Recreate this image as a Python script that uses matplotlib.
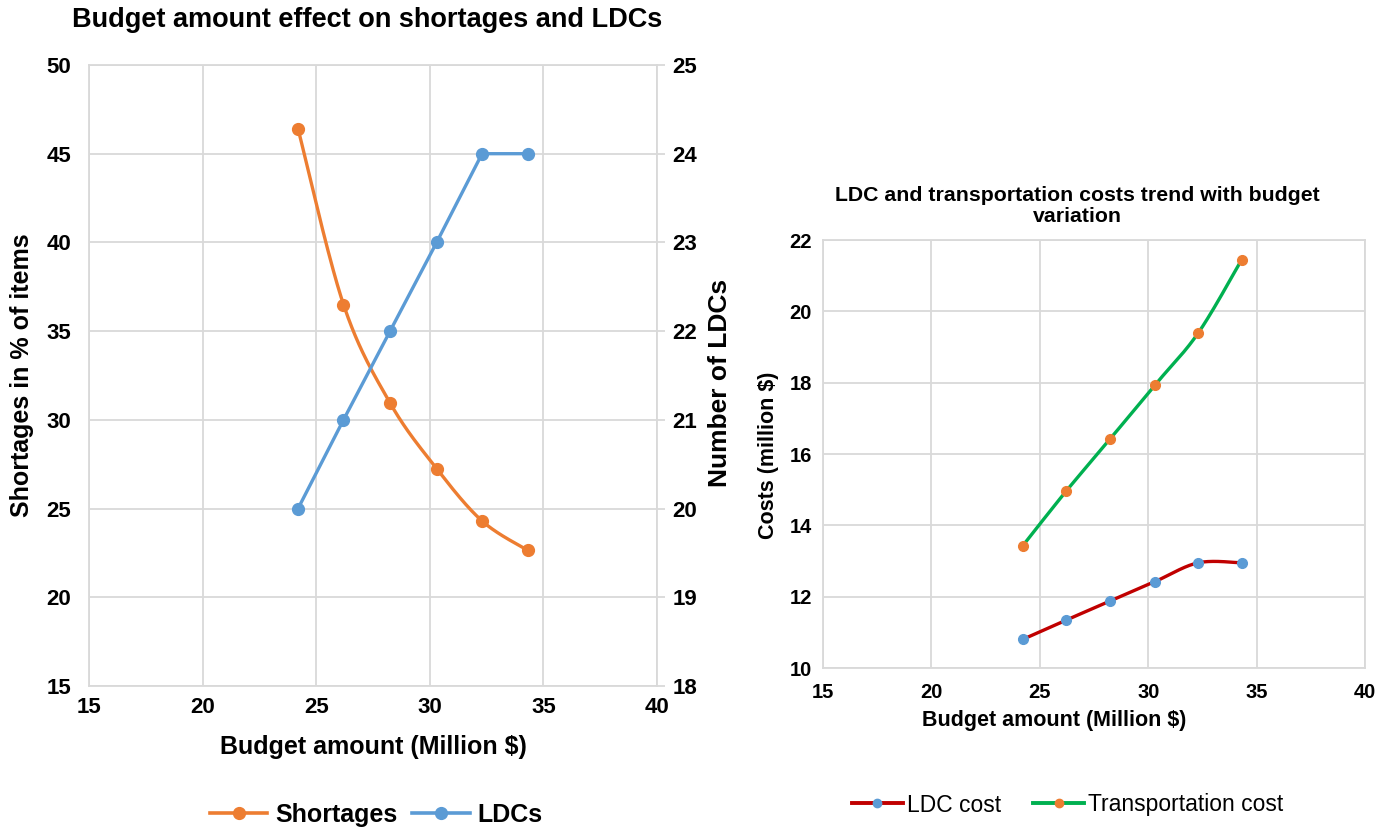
import numpy as np
import matplotlib
matplotlib.use("Agg")
import matplotlib.pyplot as plt
from matplotlib.lines import Line2D

plt.rcParams['font.family'] = ['Liberation Sans', 'DejaVu Sans']

# ---------------- data ----------------
budget = [24.2, 26.2, 28.25, 30.3, 32.3, 34.3]
shortages = [46.4, 36.5, 30.95, 27.25, 24.3, 22.65]
ldcs = [20, 21, 22, 23, 24, 24]
ldc_cost = [10.8, 11.34, 11.88, 12.42, 12.95, 12.95]
transport_cost = [13.42, 14.95, 16.43, 17.93, 19.39, 21.44]

left_xticks = [15, 20, 25, 30, 35, 40]
left_yticks = [15, 20, 25, 30, 35, 40, 45, 50]
right_yticks = [18, 19, 20, 21, 22, 23, 24, 25]
cost_yticks = [10, 12, 14, 16, 18, 20, 22]

ORANGE = '#ED7D31'
BLUE = '#5B9BD5'
RED = '#C00000'
GREEN = '#00B050'
GRID = '#D9D9D9'
TXT = '#000000'

W, H = 1387, 832


def smooth(x, y, n=40):
    """Excel-style smoothed line (cubic Bezier, Catmull-Rom control points)."""
    P = np.column_stack([np.asarray(x, float), np.asarray(y, float)])
    out = []
    for i in range(len(P) - 1):
        p0 = P[i - 1] if i > 0 else P[i]
        p1 = P[i]
        p2 = P[i + 1]
        p3 = P[i + 2] if i + 2 < len(P) else P[i + 1]
        c1 = p1 + (p2 - p0) / 6.0
        c2 = p2 - (p3 - p1) / 6.0
        t = np.linspace(0, 1, n)[:, None]
        seg = ((1 - t) ** 3) * p1 + 3 * ((1 - t) ** 2) * t * c1 + 3 * (1 - t) * t ** 2 * c2 + t ** 3 * p2
        out.append(seg if i == 0 else seg[1:])
    out = np.vstack(out)
    return out[:, 0], out[:, 1]


def style_axes(ax):
    ax.grid(True, color=GRID, linewidth=1.3)
    ax.set_axisbelow(True)
    for s in ax.spines.values():
        s.set_color(GRID)
        s.set_linewidth(1.3)
    ax.tick_params(length=0, colors=TXT)


def fx(px):
    return px / W


def fy(py):
    return 1 - py / H


fig = plt.figure(figsize=(13.87, 8.32), dpi=100)

# ---------------- left chart ----------------
ax1 = fig.add_axes([0.0642, 0.1755, 0.4095, 0.7464])
style_axes(ax1)
ax1.set_xlim(15, 40)
ax1.set_ylim(15, 50)
ax1.set_xticks(left_xticks)
ax1.set_yticks(left_yticks)
for lab in ax1.get_xticklabels() + ax1.get_yticklabels():
    lab.set_fontsize(16)
    lab.set_fontweight('bold')
ax1.tick_params(axis='x', pad=8)
ax1.tick_params(axis='y', pad=13)

sx, sy = smooth(budget, shortages)
ax1.plot(sx, sy, color=ORANGE, linewidth=2.4, zorder=3)
ax1.plot(budget, shortages, linestyle='none', marker='o', markersize=8.5, color=ORANGE, zorder=4)

ax2 = ax1.twinx()
ax2.set_ylim(18, 25)
ax2.set_yticks(right_yticks)
for s in ax2.spines.values():
    s.set_visible(False)
ax2.tick_params(axis='y', length=6, width=1.3, color=GRID, pad=5, labelcolor=TXT)
for lab in ax2.get_yticklabels():
    lab.set_fontsize(16)
    lab.set_fontweight('bold')
ax2.plot(budget, ldcs, color=BLUE, linewidth=2.4, marker='o', markersize=8.5, zorder=3)

ax1.set_xlabel('Budget amount (Million $)', fontsize=18, fontweight='bold')
ax1.xaxis.set_label_coords(0.5, -(747 - 686) / 621, transform=ax1.transAxes)
ax1.xaxis.label.set_va('center')
ax1.set_ylabel('Shortages in % of items', fontsize=18, fontweight='bold')
ax1.yaxis.set_label_coords(-(89 - 22) / 568, 0.5)
ax1.yaxis.label.set_va('center')
ax2.set_ylabel('Number of LDCs', fontsize=19, fontweight='bold', rotation=90)
ax2.yaxis.set_label_coords(1 + (720 - 657) / 568, (686 - 383) / 621)
ax2.yaxis.label.set_va('center')
fig.text(fx(367), fy(20), 'Budget amount effect on shortages and LDCs', fontsize=19.5,
         fontweight='bold', ha='center', va='center')

h1 = [Line2D([], [], color=ORANGE, linewidth=2.6, marker='o', markersize=8.5),
      Line2D([], [], color=BLUE, linewidth=2.6, marker='o', markersize=8.5)]
fig.legend(h1, ['Shortages', 'LDCs'], loc='center', bbox_to_anchor=(fx(376), fy(815)),
           ncol=2, frameon=False, prop={'size': 18, 'weight': 'bold'},
           handlelength=2.3, columnspacing=0.6, handletextpad=0.3)

# ---------------- right chart ----------------
ax3 = fig.add_axes([0.5934, 0.1971, 0.3908, 0.5144])
style_axes(ax3)
ax3.set_xlim(15, 40)
ax3.set_ylim(10, 22)
ax3.set_xticks(left_xticks)
ax3.set_yticks(cost_yticks)
for lab in ax3.get_xticklabels() + ax3.get_yticklabels():
    lab.set_fontsize(14.5)
    lab.set_fontweight('bold')
ax3.tick_params(axis='x', pad=11)
ax3.tick_params(axis='y', pad=8)

lx, ly = smooth(budget, ldc_cost)
ax3.plot(lx, ly, color=RED, linewidth=2.4, zorder=3)
ax3.plot(budget, ldc_cost, linestyle='none', marker='o', markersize=7, color=BLUE, zorder=4)
tx, ty = smooth(budget, transport_cost)
ax3.plot(tx, ty, color=GREEN, linewidth=2.4, zorder=3)
ax3.plot(budget, transport_cost, linestyle='none', marker='o', markersize=7, color=ORANGE, zorder=4)

ax3.set_xlabel('Budget amount (Million $)', fontsize=15.5, fontweight='bold')
ax3.xaxis.set_label_coords((1054 - 823) / 542, -(720 - 668) / 428)
ax3.xaxis.label.set_va('center')
ax3.set_ylabel('Costs (million $)', fontsize=15.5, fontweight='bold')
ax3.yaxis.set_label_coords(-(823 - 768) / 542, (668 - 455) / 428)
ax3.yaxis.label.set_va('center')
fig.text(fx(1077), fy(206), 'LDC and transportation costs trend with budget\nvariation',
         fontsize=15.3, fontweight='bold', ha='center', va='center', linespacing=1.15)

h2 = [Line2D([], [], color=RED, linewidth=2.8, marker='o', markersize=6,
             markerfacecolor=BLUE, markeredgecolor=BLUE),
      Line2D([], [], color=GREEN, linewidth=2.8, marker='o', markersize=6,
             markerfacecolor=ORANGE, markeredgecolor=ORANGE)]
fig.legend(h2, ['LDC cost', 'Transportation cost'], loc='center', bbox_to_anchor=(fx(1068), fy(805)),
           ncol=2, frameon=False, prop={'size': 16.5},
           handlelength=2.2, columnspacing=1.4, handletextpad=0.2)

fig.savefig('out.png', dpi=100, facecolor='white')
